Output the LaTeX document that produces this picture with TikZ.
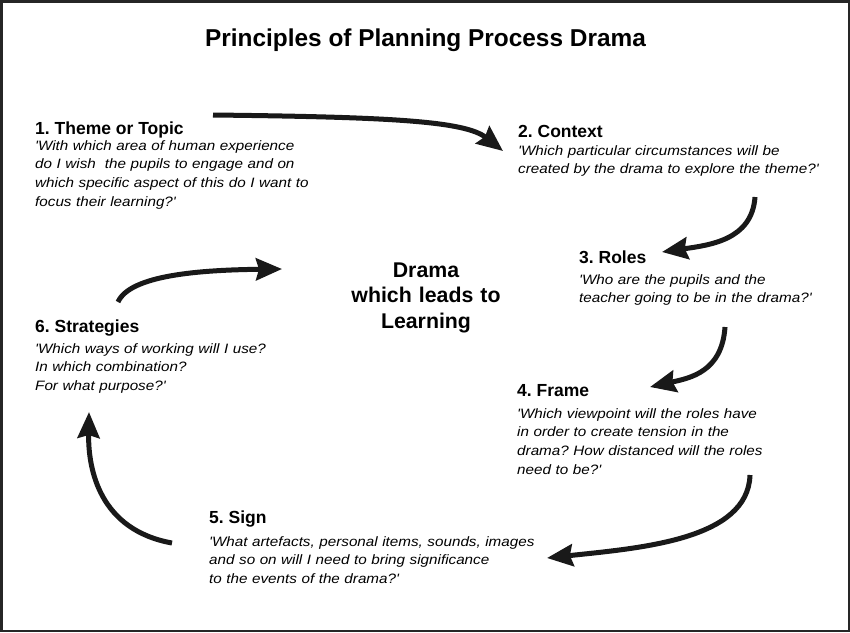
\documentclass[tikz,border=0pt]{standalone}
\usepackage{fontspec}
\usepackage{tikz}
\setmainfont{Liberation Sans}
\newfontfamily\quotefont[FakeStretch=1.12]{Liberation Sans}
\usetikzlibrary{arrows.meta,positioning,calc}
\frenchspacing

\tikzset{
	heading/.style={anchor=base west, inner sep=0pt, font=\fontsize{17.5}{21}\selectfont\bfseries},
	question/.style={anchor=base west, inner sep=0pt, align=left, text width=360pt,
		font=\quotefont\itshape\fontsize{13.6}{18.8}\selectfont},
	flow/.style={line width=5pt, black!90, -{Stealth[length=26pt,width=22pt,inset=3pt]}},
}

\begin{document}
\begin{tikzpicture}[x=1pt,y=-1pt]
		\useasboundingbox (0,0) rectangle (850,632);
		\draw[line width=2.5pt, black!85] (1.25,1.25) rectangle (848.75,630.75);

		\node[anchor=base, inner sep=0pt, font=\fontsize{24.4}{29}\selectfont\bfseries] (title) at (425.5,46) {Principles of Planning Process Drama};

		% the six principles
		\node[heading] (theme) at (35,134) {1. Theme or Topic};
		\node[question] (theme-q) at (35,150) {'With which area of human experience\\do I wish\ \ the pupils to engage and on\\which specific aspect of this do I want to\\focus their learning?'};

		\node[heading] (context) at (518,137) {2. Context};
		\node[question] (context-q) at (518,155) {'Which particular circumstances will be\\created by the drama to explore the theme?'};

		\node[heading] (roles) at (579,263) {3. Roles};
		\node[question] (roles-q) at (579,284) {'Who are the pupils and the\\teacher going to be in the drama?'};

		\node[heading] (frame) at (517,396) {4. Frame};
		\node[question] (frame-q) at (517,418) {'Which viewpoint will the roles have\\in order to create tension in the\\drama? How distanced will the roles\\need to be?'};

		\node[heading] (sign) at (209,523) {5. Sign};
		\node[question] (sign-q) at (209,546) {'What artefacts, personal items, sounds, images\\and so on will I need to bring significance\\to the events of the drama?'};

		\node[heading] (strategies) at (35,332) {6. Strategies};
		\node[question] (strategies-q) at (35,353) {'Which ways of working will I use?\\In which combination?\\For what purpose?'};

		\node[anchor=base, inner sep=0pt, align=center, text width=220pt, font=\fontsize{21.3}{25.5}\selectfont\bfseries] (learning) at (426,277) {Drama\\which leads to\\Learning};

		% arrow ends
		\coordinate (theme-out) at (213,115);
		\coordinate (context-in) at (503,151);
		\coordinate (context-out) at (755,197);
		\coordinate (roles-in) at (662,252);
		\coordinate (roles-out) at (725,327);
		\coordinate (frame-in) at (650,387);
		\coordinate (frame-out) at (750,475);
		\coordinate (sign-in) at (547,558);
		\coordinate (sign-out) at (172,543);
		\coordinate (strategies-in) at (89,412);
		\coordinate (strategies-out) at (118,302);
		\coordinate (learning-in) at (282,269);

		\draw[flow] (theme-out) .. controls (390,117) and (465,121) .. (context-in);
		\draw[flow] (context-out) .. controls (752,240) and (710,245) .. (roles-in);
		\draw[flow] (roles-out) .. controls (722,372) and (690,378) .. (frame-in);
		\draw[flow] (frame-out) .. controls (748,540) and (640,548) .. (sign-in);
		\draw[flow] (sign-out) .. controls (100,530) and (88,470) .. (strategies-in);
		\draw[flow] (strategies-out) .. controls (130,275) and (200,270) .. (learning-in);
	\end{tikzpicture}
\end{document}
